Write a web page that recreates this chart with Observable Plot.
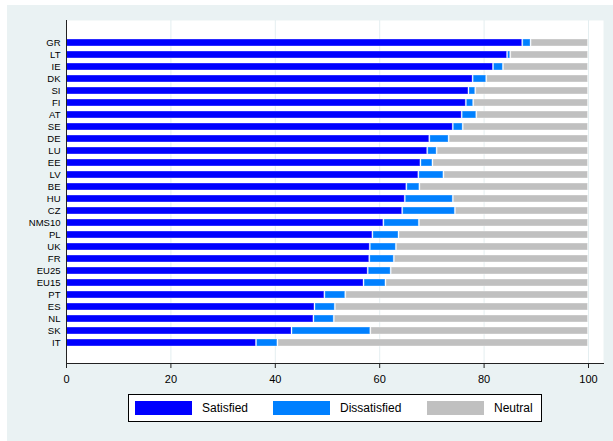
<!DOCTYPE html>
<html>
<head>
<meta charset="utf-8">
<script src="https://cdn.jsdelivr.net/npm/d3@7"></script>
<script src="https://cdn.jsdelivr.net/npm/@observablehq/plot@0.6"></script>
<style>
html, body { margin: 0; padding: 0; background: #fff; }
#wrap { position: relative; width: 613px; height: 441px; overflow: hidden; font-family: "Liberation Sans", Arial, sans-serif; }
#bg { position: absolute; left: 7px; top: 5px; right: 0; bottom: 0; background: #eaf2f3; }
#chart { position: relative; height: 388px; }
#chart svg { display: block; }
#legend { position: relative; margin-left: 128px; margin-top: 6px; width: 412px; height: 26px; border: 1px solid #000; background: #fff; font-size: 12px; color: #000; }
#legend .sw { position: absolute; top: 6px; width: 57px; height: 14px; box-sizing: border-box; }
#legend .lb { position: absolute; top: 0; line-height: 26px; }
</style>
</head>
<body>
<div id="wrap">
  <div id="bg"></div>
  <div id="chart"></div>
  <div id="legend"></div>
</div>
<script>
const countries = ["GR","LT","IE","DK","SI","FI","AT","SE","DE","LU","EE","LV","BE","HU","CZ","NMS10","PL","UK","FR","EU25","EU15","PT","ES","NL","SK","IT"];
const satisfied = [87.4,84.5,81.8,77.9,77.1,76.6,75.8,74.1,69.6,69.2,67.9,67.5,65.2,64.9,64.4,60.8,58.7,58.2,58.1,57.8,57.0,49.5,47.6,47.4,43.2,36.4];
const dissatisfied = [1.6,0.6,1.9,2.6,1.3,1.4,2.8,1.9,3.7,1.8,2.3,4.8,2.5,9.2,10.1,6.8,5.0,5.0,4.7,4.4,4.2,4.0,3.9,3.9,15.1,4.1];
const neutral = [11.0,14.9,16.3,19.5,21.6,22.0,21.4,24.0,26.7,29.0,29.8,27.7,32.3,25.9,25.5,32.4,36.3,36.8,37.2,37.8,38.8,46.5,48.5,48.7,41.7,59.5];
const categories = ["Satisfied","Dissatisfied","Neutral"];
const colors = ["#0000ff","#0080ff","#c0c0c0"];
const xTicks = [0,20,40,60,80,100];

const table = countries.flatMap((c, i) => [
  {country: c, cat: "Satisfied", value: satisfied[i]},
  {country: c, cat: "Dissatisfied", value: dissatisfied[i]},
  {country: c, cat: "Neutral", value: neutral[i]}
]);

const chart = Plot.plot({
  width: 613,
  height: 388,
  marginLeft: 66,
  marginRight: 10,
  marginTop: 20,
  marginBottom: 25,
  style: {background: "transparent", fontFamily: "'Liberation Sans', Arial, sans-serif", color: "#000"},
  x: {domain: [0, 100], insetRight: 15},
  y: {domain: countries, padding: 0.42, insetTop: 13.1, insetBottom: 11.5},
  color: {domain: categories, range: colors},
  marks: [
    Plot.frame({fill: "white", stroke: "none"}),
    Plot.gridX(xTicks.slice(1), {stroke: "#e4eef0", strokeOpacity: 1, strokeWidth: 1}),
    Plot.barX(table, {x: "value", y: "country", fill: "cat", insetLeft: 0.5, insetRight: 0.5, stroke: "white", strokeOpacity: 0.35, strokeWidth: 1}),
    Plot.frame({anchor: "left", stroke: "#222"}),
    Plot.frame({anchor: "bottom", stroke: "#222"}),
    Plot.axisX(xTicks, {tickSize: 5, tickPadding: 7, fontSize: 11, label: null, stroke: "#222"}),
    Plot.axisY({tickSize: 0, tickPadding: 6, fontSize: 9.5, label: null})
  ]
});
document.getElementById("chart").appendChild(chart);

const legend = document.getElementById("legend");
const swLeft = [6, 144, 298];
const lbLeft = [73, 211, 365];
categories.forEach((c, i) => {
  const sw = document.createElement("div");
  sw.className = "sw";
  sw.style.left = swLeft[i] + "px";
  sw.style.background = colors[i];
  legend.appendChild(sw);
  const lb = document.createElement("div");
  lb.className = "lb";
  lb.style.left = lbLeft[i] + "px";
  lb.textContent = c;
  legend.appendChild(lb);
});
</script>
</body>
</html>
